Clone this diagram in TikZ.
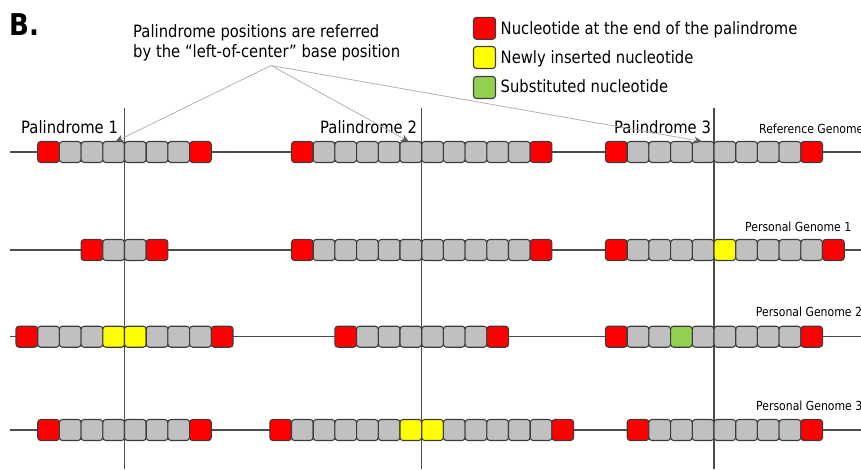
\documentclass[tikz,border=0pt]{standalone}
\usepackage{fontspec}
\setmainfont[FakeStretch=0.87]{DejaVu Sans}
\usetikzlibrary{arrows.meta}

\definecolor{rd}{HTML}{FF0000}
\definecolor{gy}{HTML}{C0C0C0}
\definecolor{yl}{HTML}{FFFF00}
\definecolor{gn}{HTML}{92D050}
\definecolor{edge}{HTML}{3C3C3C}

\tikzset{
  nt/.style={draw=edge, line width=1.1pt, rounded corners=3pt, minimum width=21.7pt,
    minimum height=21pt, inner sep=0pt, outer sep=0pt},
  keybox/.style={nt, minimum width=22pt, minimum height=22pt},
  axis/.style={draw=black!70, line width=1.1pt},
  pointer/.style={draw=black!30, line width=0.8pt, -{Stealth[length=8pt,width=7pt,color=black!65,fill=black!65]}},
  lbl/.style={anchor=base west, inner sep=0pt, font=\fontsize{17}{20}\selectfont},
  small/.style={anchor=base west, inner sep=0pt, font=\fontsize{12.5}{14}\selectfont}
}

\begin{document}
\begin{tikzpicture}[x=1pt,y=-1pt]
\useasboundingbox (0,0) rectangle (861,469);
\coordinate (hub) at (271,65.5);
\coordinate (V1) at (124.5,108);
\coordinate (V2) at (421.7,108);
\coordinate (V3) at (714,108);
\coordinate (W1) at (124.5,469);
\coordinate (W2) at (421.7,469);
\coordinate (W3) at (714,469);

% genome lines
\foreach \y in {152,250,336.7,430}
  \draw[axis] (10,\y) -- (861,\y);
\draw[axis] (V1) -- (W1);
\draw[axis] (V2) -- (W2);
\draw[axis] (V3) -- (W3);

% reference genome
\foreach \c [count=\i from 0] in {rd,gy,gy,gy,gy,gy,gy,rd}
  \node[nt, fill=\c] (ref-p1-\i) at ({124.5+(\i-3.5)*21.7},152) {};
\foreach \c [count=\i from 0] in {rd,gy,gy,gy,gy,gy,gy,gy,gy,gy,gy,rd}
  \node[nt, fill=\c] (ref-p2-\i) at ({421.7+(\i-5.5)*21.7},152) {};
\foreach \c [count=\i from 0] in {rd,gy,gy,gy,gy,gy,gy,gy,gy,rd}
  \node[nt, fill=\c] (ref-p3-\i) at ({714+(\i-4.5)*21.7},152) {};

% personal genome 1
\foreach \c [count=\i from 0] in {rd,gy,gy,rd}
  \node[nt, fill=\c] (pg1-p1-\i) at ({124.5+(\i-1.5)*21.7},250) {};
\foreach \c [count=\i from 0] in {rd,gy,gy,gy,gy,gy,gy,gy,gy,gy,gy,rd}
  \node[nt, fill=\c] (pg1-p2-\i) at ({421.7+(\i-5.5)*21.7},250) {};
\foreach \c [count=\i from 0] in {rd,gy,gy,gy,gy,yl,gy,gy,gy,gy,rd}
  \node[nt, fill=\c] (pg1-p3-\i) at ({714+(\i-4.5)*21.7},250) {};

% personal genome 2
\foreach \c [count=\i from 0] in {rd,gy,gy,gy,yl,yl,gy,gy,gy,rd}
  \node[nt, fill=\c] (pg2-p1-\i) at ({124.5+(\i-4.5)*21.7},336.7) {};
\foreach \c [count=\i from 0] in {rd,gy,gy,gy,gy,gy,gy,rd}
  \node[nt, fill=\c] (pg2-p2-\i) at ({421.7+(\i-3.5)*21.7},336.7) {};
\foreach \c [count=\i from 0] in {rd,gy,gy,gn,gy,gy,gy,gy,gy,rd}
  \node[nt, fill=\c] (pg2-p3-\i) at ({714+(\i-4.5)*21.7},336.7) {};

% personal genome 3
\foreach \c [count=\i from 0] in {rd,gy,gy,gy,gy,gy,gy,rd}
  \node[nt, fill=\c] (pg3-p1-\i) at ({124.5+(\i-3.5)*21.7},430) {};
\foreach \c [count=\i from 0] in {rd,gy,gy,gy,gy,gy,yl,yl,gy,gy,gy,gy,gy,rd}
  \node[nt, fill=\c] (pg3-p2-\i) at ({421.7+(\i-6.5)*21.7},430) {};
\foreach \c [count=\i from 0] in {rd,gy,gy,gy,gy,gy,gy,gy,rd}
  \node[nt, fill=\c] (pg3-p3-\i) at ({714+(\i-3.5)*21.7},430) {};

\node[lbl] (pal1) at (21,133) {Palindrome 1};
\node[lbl] (pal2) at (320,133) {Palindrome 2};
\node[lbl] (pal3) at (614,133) {Palindrome 3};
\node[small] (refname) at (759,133) {Reference Genome};
\node[small] (pg1name) at (745,231.7) {Personal Genome 1};
\node[small] (pg2name) at (755.7,316) {Personal Genome 2};
\node[small] (pg3name) at (756,410.7) {Personal Genome 3};

% note and pointers
\node[anchor=base west, inner sep=0pt, font=\fontsize{30}{32}\selectfont\bfseries] (panel) at (9,35) {B.};
\node[lbl] (note1) at (133,37.3) {Palindrome positions are referred};
\node[lbl] (note2) at (133,57) {by the “left-of-center” base position};
\draw[pointer] (hub) -- ([xshift=2pt]ref-p1-3.north);
\draw[pointer] (hub) -- ([xshift=-2pt]ref-p2-5.north);
\draw[pointer] (hub) -- ([xshift=-1pt]ref-p3-4.north);

% legend
\node[keybox, fill=rd] (keyend) at (484.5,28.3) {};
\node[keybox, fill=yl] (keyins) at (484.5,57.5) {};
\node[keybox, fill=gn] (keysub) at (484.5,87.5) {};
\node[lbl] (keyendtxt) at (500.5,34.3) {Nucleotide at the end of the palindrome};
\node[lbl] (keyinstxt) at (500.5,63.3) {Newly inserted nucleotide};
\node[lbl] (keysubtxt) at (500.5,92.3) {Substituted nucleotide};
\end{tikzpicture}
\end{document}
